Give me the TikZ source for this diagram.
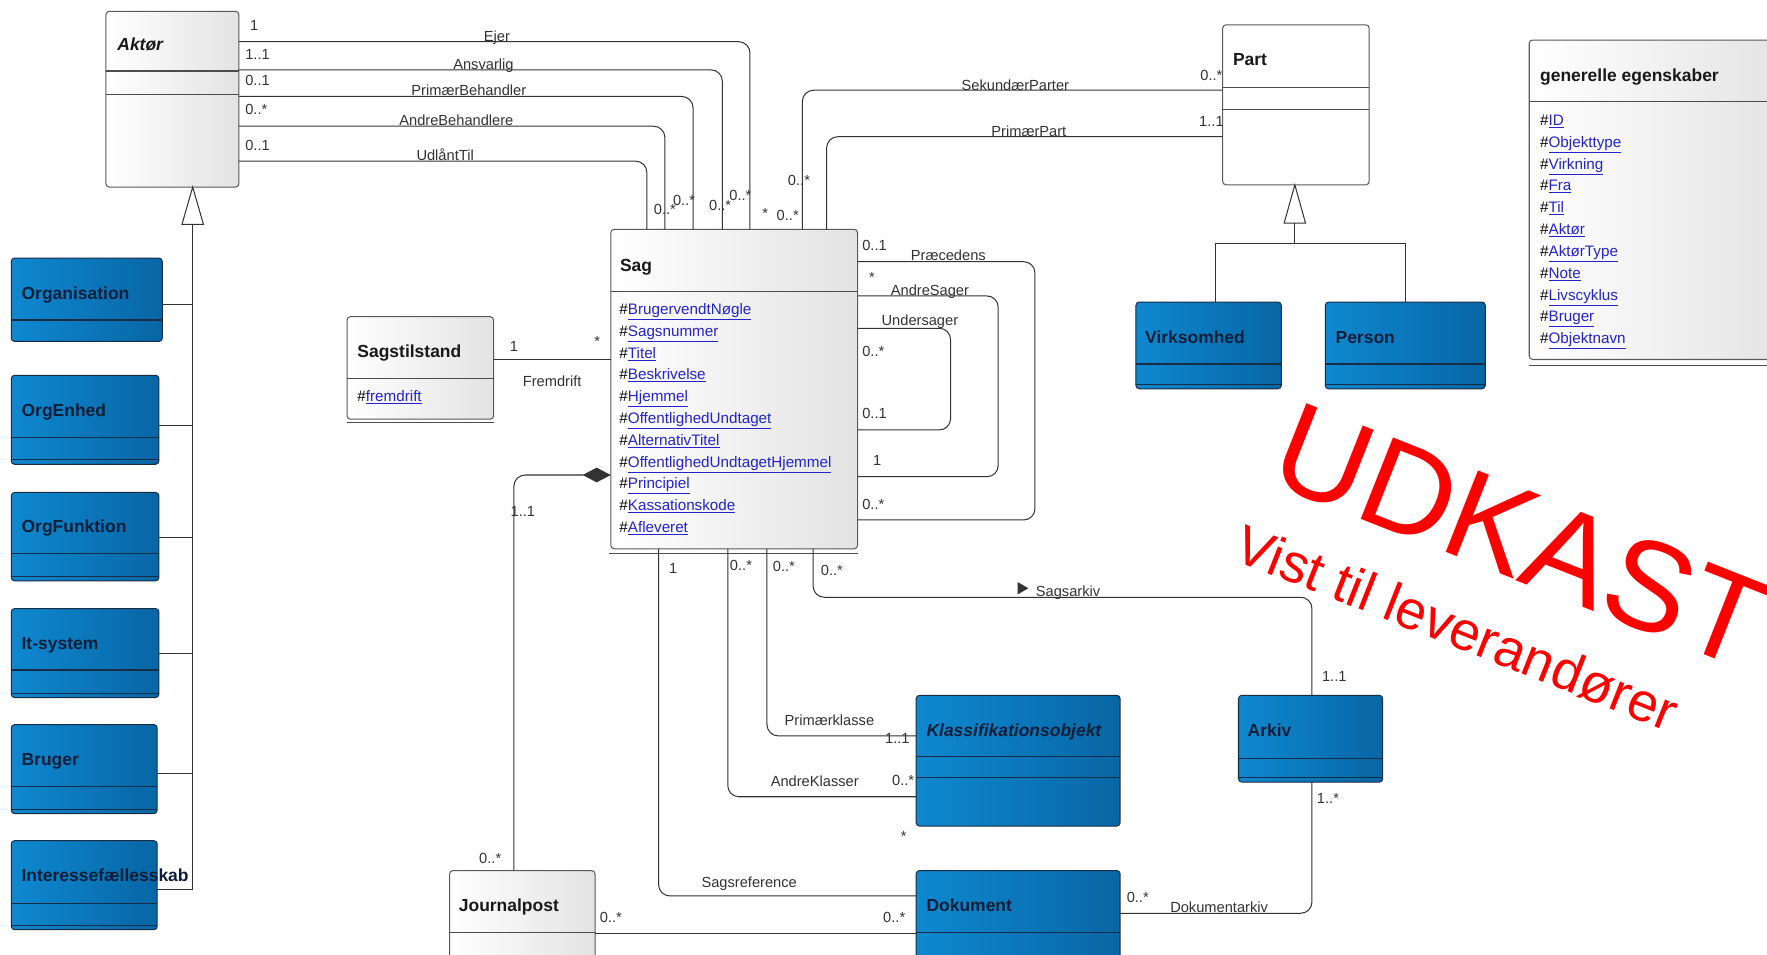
\documentclass[tikz,border=0pt]{standalone}
\usepackage{fontspec}
\setmainfont{Liberation Sans}
\usetikzlibrary{arrows.meta}
\definecolor{blueA}{HTML}{0E88D0}
\definecolor{blueB}{HTML}{0866A5}
\definecolor{navy}{HTML}{0C1E38}
\definecolor{edgeblue}{HTML}{1A2C44}
\definecolor{linkblue}{HTML}{2424C8}
\definecolor{lnc}{HTML}{333333}
\definecolor{udred}{HTML}{FF0000}
\newcommand{\lnk}[1]{\#\textcolor{linkblue}{\underline{#1}}}
\tikzset{
  graybox/.style={draw=black!65, line width=0.9pt, rounded corners=3pt, left color=white, right color=black!11, anchor=north west, inner sep=0pt, outer sep=0pt},
  whitebox/.style={draw=black!65, line width=0.9pt, rounded corners=3pt, fill=white, anchor=north west, inner sep=0pt, outer sep=0pt},
  bluebox/.style={draw=edgeblue, line width=0.9pt, rounded corners=3pt, left color=blueA, right color=blueB, anchor=north west, inner sep=0pt, outer sep=0pt},
  sep/.style={draw=black!70, line width=0.9pt},
  bsep/.style={draw=edgeblue, line width=1pt},
  ttl/.style={font=\fontsize{15.5}{18}\selectfont\bfseries, anchor=west, inner sep=0pt, text height=11pt, text depth=0pt, text=black!90},
  bttl/.style={ttl, text=navy},
  lbl/.style={font=\fontsize{13}{15}\selectfont, inner sep=0pt, text height=9.3pt, text depth=0pt, text=lnc},
  lblw/.style={lbl, anchor=west},
  attr/.style={font=\fontsize{13.5}{15}\selectfont, inner sep=0pt, anchor=west, text height=9.7pt, text depth=0pt},
  conn/.style={draw=lnc, line width=0.9pt, rounded corners=10pt},
  gen/.style={draw=lnc, line width=0.9pt},
}
\begin{document}
\begin{tikzpicture}[x=1pt,y=-1pt]
\useasboundingbox (0,0) rectangle (1568,847);
\clip (0,0) rectangle (1568,847);
\fill[white] (0,0) rectangle (1568,847);

% ---------- boxes ----------
\node[graybox, minimum width=118pt, minimum height=156pt] (aktor) at (94,10) {};
\node[graybox, minimum width=130pt, minimum height=91pt] (sagst) at (308,281) {};
\node[graybox, minimum width=219pt, minimum height=283.5pt] (sag) at (542,203.5) {};
\node[graybox, minimum width=129pt, minimum height=90pt] (journ) at (399,772.5) {};
\node[whitebox, minimum width=130pt, minimum height=142pt] (part) at (1085,22) {};
\node[graybox, minimum width=230pt, minimum height=283.5pt] (genr) at (1357,35.5) {};
\node[bluebox, minimum width=129pt, minimum height=77pt] (virk) at (1008,268) {};
\node[bluebox, minimum width=142pt, minimum height=77pt] (person) at (1176,268) {};
\node[bluebox, minimum width=134pt, minimum height=74pt] (org) at (10,229) {};
\node[bluebox, minimum width=131pt, minimum height=79pt] (orgenh) at (10,333) {};
\node[bluebox, minimum width=131pt, minimum height=78.5pt] (orgfun) at (10,437) {};
\node[bluebox, minimum width=131pt, minimum height=79pt] (itsys) at (10,540) {};
\node[bluebox, minimum width=129.5pt, minimum height=79pt] (bruger) at (10,643) {};
\node[bluebox, minimum width=129.5pt, minimum height=79pt] (inter) at (10,746) {};
\node[bluebox, minimum width=181pt, minimum height=116pt] (klass) at (813,617) {};
\node[bluebox, minimum width=128pt, minimum height=77pt] (arkiv) at (1099,617) {};
\node[bluebox, minimum width=181pt, minimum height=90pt] (dok) at (813,772.5) {};

% compartment lines
\draw[sep] (aktor.west |- 0,63) -- (aktor.east |- 0,63);
\draw[sep] (aktor.west |- 0,84) -- (aktor.east |- 0,84);
\draw[sep] (sagst.west |- 0,336) -- (sagst.east |- 0,336);
\draw[sep] (sagst.west |- 0,375) -- (sagst.east |- 0,375);
\draw[sep] (sag.west |- 0,259) -- (sag.east |- 0,259);
\draw[sep] (540,491) -- (sag.east |- 0,491);
\draw[sep] (journ.west |- 0,827.6) -- (journ.east |- 0,827.6);
\draw[sep] (part.west |- 0,78) -- (part.east |- 0,78);
\draw[sep] (part.west |- 0,97) -- (part.east |- 0,97);
\draw[sep] (genr.west |- 0,90) -- (genr.east |- 0,90);
\draw[sep] (genr.west |- 0,324) -- (genr.east |- 0,324);
\foreach \b/\y/\z in {virk/323/341, person/323/341, orgenh/388/408, orgfun/491/511.5, itsys/594.5/615, bruger/698/718, inter/802/821, arkiv/673/690}{
  \draw[bsep] (\b.west |- 0,\y) -- (\b.east |- 0,\y);
  \draw[bsep] (\b.west |- 0,\z) -- (\b.east |- 0,\z);
}
\draw[bsep] (org.west |- 0,284) -- (org.east |- 0,284);
\draw[bsep] (klass.west |- 0,671.4) -- (klass.east |- 0,671.4);
\draw[bsep] (klass.west |- 0,690) -- (klass.east |- 0,690);
\draw[bsep] (dok.west |- 0,827.6) -- (dok.east |- 0,827.6);

% ---------- connectors ----------
% Aktoer -> Sag
\draw[conn] (aktor.east |- 0,37) -- (665.5,37) -- (sag.north -| 665.5,0);
\draw[conn] (aktor.east |- 0,62) -- (641,62) -- (sag.north -| 641,0);
\draw[conn] (aktor.east |- 0,85.6) -- (615,85.6) -- (sag.north -| 615,0);
\draw[conn] (aktor.east |- 0,112) -- (590,112) -- (sag.north -| 590,0);
\draw[conn] (aktor.east |- 0,143) -- (574,143) -- (sag.north -| 574,0);
% Sag -> Part
\draw[conn] (sag.north -| 712,0) -- (712,80) -- (part.west |- 0,80);
\draw[conn] (sag.north -| 733.5,0) -- (733.5,121.3) -- (part.west |- 0,121.3);
% Fremdrift
\draw[gen] (sagst.east |- 0,319.4) -- (sag.west |- 0,319.4);
% composition Journalpost
\draw[conn, -{Diamond[length=25pt,width=13pt]}] (journ.north -| 456,0) -- (456,421.5) -- (sag.west |- 0,421.5);
% self associations
\draw[conn] (sag.east |- 0,232.2) -- (918.4,232.2) -- (918.4,461.4) -- (sag.east |- 0,461.4);
\draw[conn] (sag.east |- 0,262.6) -- (885.8,262.6) -- (885.8,423) -- (sag.east |- 0,423);
\draw[conn] (sag.east |- 0,291.3) -- (843.5,291.3) -- (843.5,381.5) -- (sag.east |- 0,381.5);
% bottom of Sag
\draw[conn] (sag.south -| 584.4,0) -- (584.4,795) -- (dok.west |- 0,795);
\draw[conn] (sag.south -| 645.8,0) -- (645.8,707) -- (klass.west |- 0,707);
\draw[conn] (sag.south -| 680.6,0) -- (680.6,653) -- (klass.west |- 0,653);
\draw[conn] (sag.south -| 721.5,0) -- (721.5,530) -- (1164.2,530) -- (arkiv.north -| 1164.2,0);
\draw[conn] (arkiv.south -| 1164.2,0) -- (1164.2,810.4) -- (dok.east |- 0,810.4);
\draw[gen] (journ.east |- 0,828.7) -- (dok.west |- 0,828.7);
\fill[lnc] (903,516.5) -- (912.5,522) -- (903,527.5) -- cycle;

% generalisation Aktoer
\coordinate (akbase) at (171,199);
\draw[gen, fill=white] (aktor.south -| 171,0) -- (180.5,199) -- (161.5,199) -- cycle;
\draw[gen] (akbase) -- (171,789.5) -- (inter.east |- 0,789.5);
\draw[gen] (org.east |- 0,270.4) -- (171,270.4);
\draw[gen] (orgenh.east |- 0,378) -- (171,378);
\draw[gen] (orgfun.east |- 0,477) -- (171,477);
\draw[gen] (itsys.east |- 0,579.5) -- (171,579.5);
\draw[gen] (bruger.east |- 0,686) -- (171,686);
% generalisation Part
\coordinate (ptbase) at (1149,198);
\draw[gen, fill=white] (part.south -| 1149,0) -- (1158.5,198) -- (1139.5,198) -- cycle;
\draw[gen] (ptbase) -- (1149,216);
\draw[gen] (virk.north -| 1078.7,0) -- (1078.7,216) -- (1247,216) -- (person.north -| 1247,0);

% ---------- titles ----------
\node[ttl] (tAktor) at (104,39) {\itshape Aktør};
\node[ttl] (tSagst) at (317,312) {Sagstilstand};
\node[attr] (aSagst) at (317,351) {\lnk{fremdrift}};
\node[ttl] (tSag) at (550,235) {Sag};
\node[ttl] (tJourn) at (407,803) {Journalpost};
\node[ttl] (tPart) at (1094,53) {Part};
\node[ttl] (tGen) at (1366.5,66.5) {generelle egenskaber};
\node[bttl] (tVirk) at (1016,299) {Virksomhed};
\node[bttl] (tPerson) at (1185,299) {Person};
\node[bttl] (tOrg) at (19,260) {Organisation};
\node[bttl] (tOrgenh) at (19,364) {OrgEnhed};
\node[bttl] (tOrgfun) at (19,467) {OrgFunktion};
\node[bttl] (tItsys) at (19,571) {It-system};
\node[bttl] (tBruger) at (19,674) {Bruger};
\node[bttl] (tInter) at (19,777) {Interessefællesskab};
\node[bttl] (tKlass) at (822,648) {\itshape Klassifikationsobjekt};
\node[bttl] (tArkiv) at (1107,648) {Arkiv};
\node[bttl] (tDok) at (822,803) {Dokument};

\foreach \t [count=\i from 0] in {BrugervendtNøgle,Sagsnummer,Titel,Beskrivelse,Hjemmel,OffentlighedUndtaget,AlternativTitel,OffentlighedUndtagetHjemmel,Principiel,Kassationskode,Afleveret}
  \node[attr] (sa\i) at (549.5,{274.2+19.35*\i}) {\lnk{\t}};
\foreach \t [count=\i from 0] in {ID,Objekttype,Virkning,Fra,Til,Aktør,AktørType,Note,Livscyklus,Bruger,Objektnavn}
  \node[attr] (ga\i) at (1366.5,{106.5+19.37*\i}) {\lnk{\t}};

% ---------- connector labels ----------
\node[lbl] (m1) at (225.5,22) {1};
\node[lblw] (m2) at (217.5,48.5) {1..1};
\node[lblw] (m3) at (217.5,71) {0..1};
\node[lblw] (m4) at (217.5,97) {0..*};
\node[lblw] (m5) at (217.5,128.5) {0..1};
\node[lbl] (rEjer) at (441,32) {Ejer};
\node[lbl] (rAnsv) at (429,57) {Ansvarlig};
\node[lbl] (rPrim) at (416,80) {PrimærBehandler};
\node[lbl] (rAndre) at (405,107) {AndreBehandlere};
\node[lbl] (rUdl) at (395,138) {UdlåntTil};
\node[lbl] (s1) at (590,186) {0..*};
\node[lbl] (s2) at (607,177.5) {0..*};
\node[lbl] (s3) at (639,182) {0..*};
\node[lbl] (s4) at (657,173) {0..*};
\node[lbl] (s5) at (679,189) {*};
\node[lbl] (s6) at (699,191) {0..*};
\node[lbl] (s7) at (709,160) {0..*};
\node[lbl] (rSek) at (901,75.4) {SekundærParter};
\node[lbl] (rPP) at (913,116.8) {PrimærPart};
\node[lbl] (p1) at (1075,66.5) {0..*};
\node[lbl] (p2) at (1075,108) {1..1};
\node[lbl] (f1) at (456,307) {1};
\node[lbl] (f2) at (530,303) {*};
\node[lbl] (rFrem) at (490,338.7) {Fremdrift};
\node[lbl] (j1) at (464,454) {1..1};
\node[lbl] (j2) at (435,761.6) {0..*};
\node[lblw] (x1) at (765,217.4) {0..1};
\node[lbl] (rPrae) at (841.5,226.3) {Præcedens};
\node[lblw] (x2) at (771,246) {*};
\node[lbl] (rAS) at (825.2,257.3) {AndreSager};
\node[lbl] (rUS) at (816.3,284.5) {Undersager};
\node[lblw] (x3) at (765,312) {0..*};
\node[lblw] (x4) at (765,366.7) {0..1};
\node[lblw] (x5) at (774.5,408.2) {1};
\node[lblw] (x6) at (765,447.2) {0..*};
\node[lbl] (b1) at (597.3,504.3) {1};
\node[lbl] (b2) at (657.5,501.3) {0..*};
\node[lbl] (b3) at (695.6,502.8) {0..*};
\node[lbl] (b4) at (738.2,505.8) {0..*};
\node[lblw] (rSA) at (919,525) {Sagsarkiv};
\node[lbl] (k1) at (1184,599.8) {1..1};
\node[lbl] (k2) at (1178.4,708.4) {1..*};
\node[lbl] (d1) at (1009.6,796.2) {0..*};
\node[lbl] (rDA) at (1081.8,805.4) {Dokumentarkiv};
\node[lbl] (rPK) at (736,638.9) {Primærklasse};
\node[lbl] (c1) at (796.3,655.1) {1..1};
\node[lbl] (rAK) at (723,693.6) {AndreKlasser};
\node[lbl] (c2) at (801.4,692.7) {0..*};
\node[lbl] (c3) at (802,741.8) {*};
\node[lbl] (rSR) at (664.8,783.2) {Sagsreference};
\node[lbl] (e1) at (542,814) {0..*};
\node[lbl] (e2) at (793.5,814) {0..*};

% ---------- watermark ----------
\node[font=\fontsize{113}{113}\selectfont, text=udred, anchor=base west, rotate=-21.6, inner sep=0pt] (udkast) at (1123,427) {UDKAST};
\node[font=\fontsize{48.5}{50}\selectfont, text=udred, anchor=base west, rotate=-21.6, inner sep=0pt] (vist) at (1093,496) {Vist til leverandører};
\end{tikzpicture}
\end{document}
